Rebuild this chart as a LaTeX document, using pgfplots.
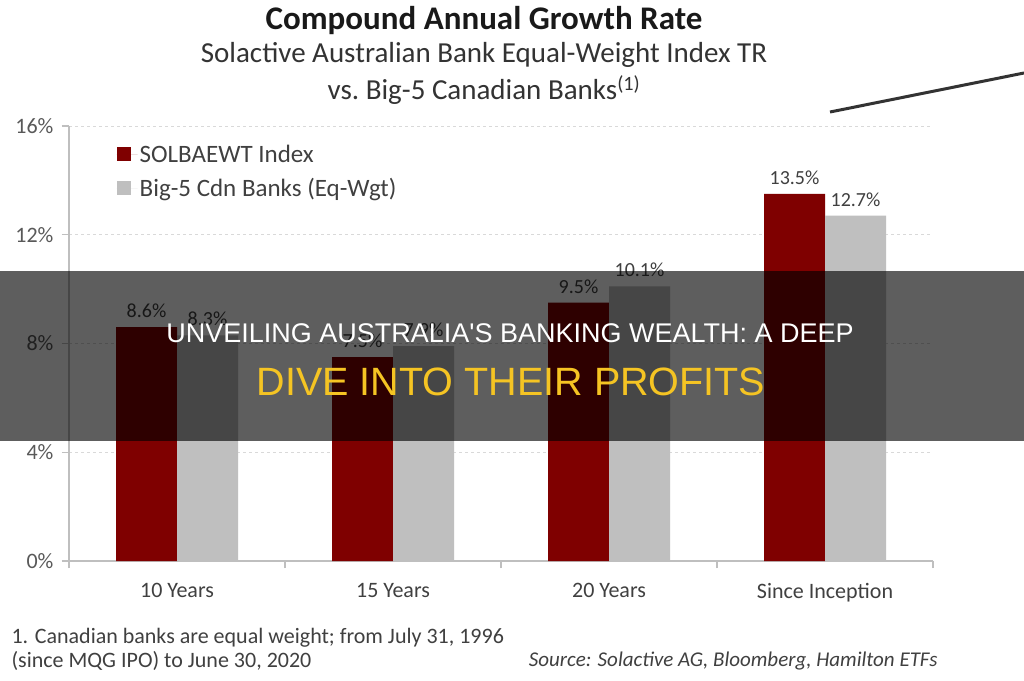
\documentclass[border=0pt]{standalone}
\usepackage{pgfplots}
\pgfplotsset{compat=1.18}
\usepackage{fontspec}
\setmainfont{Carlito}
\newfontfamily\bannerfont{Liberation Sans}
\definecolor{barred}{HTML}{7F0000}
\definecolor{bargray}{HTML}{BFBFBF}
\definecolor{axisgray}{HTML}{BFBFBF}
\definecolor{gridgray}{HTML}{D9D9D9}
\definecolor{ticktext}{HTML}{595959}
\definecolor{labtext}{HTML}{404040}
\definecolor{bannery}{RGB}{245,196,35}
\newcommand{\fs}[1]{\fontsize{#1}{#1}\selectfont}
\pgfplotsset{sqlegend/.style={legend image code/.code={\fill[##1] (0pt,-7pt) rectangle (14pt,7pt); \path (0pt,0pt) -- (21pt,0pt);}}}

\begin{document}
\begin{tikzpicture}
\path[use as bounding box, fill=white] (0,0) rectangle (1024pt,-680pt);
\begin{axis}[
  at={(69pt,-561pt)}, anchor=south west,
  scale only axis, width=864pt, height=435pt,
  xmin=0, xmax=4, ymin=0, ymax=16,
  ybar, bar width=61pt,
  axis x line=bottom, axis y line=left,
  axis line style={draw=axisgray, line width=1.2pt, -},
  ytick={0,4,8,12,16},
  yticklabel={\pgfmathprintnumber{\tick}\%},
  /pgf/number format/assume math mode=true,
  ymajorgrids, grid style={dashed, draw=gridgray, line width=0.8pt},
  tick style={draw=axisgray, line width=1.2pt},
  tick align=outside, major tick length=7pt,
  yticklabel style={font=\fs{22}, text=ticktext, xshift=-5pt},
  xtick={0,1,2,3,4},
  xticklabels={},
  extra x ticks={0.5,1.5,2.5,3.5},
  extra x tick labels={10 Years,15 Years,20 Years,Since Inception},
  extra x tick style={major tick length=0pt, xticklabel style={font=\fs{22}, text=labtext, yshift=-19pt}},
  legend style={at={(0.055,0.962)}, anchor=north west, draw=none, fill=none, font=\fs{25}, text=labtext, row sep=11pt, inner sep=0pt},
  legend cell align=left,
  nodes near coords={\pgfmathprintnumber[fixed,fixed zerofill,precision=1]{\pgfplotspointmeta}\%},
  every node near coord/.append style={font=\fs{20}, text=labtext, yshift=6pt},
  clip=false,
]
\addplot[fill=barred, draw=none, bar shift=-30.5pt, sqlegend] coordinates {(0.5,8.6) (1.5,7.5) (2.5,9.5) (3.5,13.5)};
\addlegendentry{SOLBAEWT Index}
\addplot[fill=bargray, draw=none, bar shift=30.5pt, sqlegend] coordinates {(0.5,8.3) (1.5,7.9) (2.5,10.1) (3.5,12.7)};
\addlegendentry{Big-5 Cdn Banks (Eq-Wgt)}
\end{axis}
\node[font=\fs{33}\bfseries, text=black!90] at (484pt,-21pt) {Compound Annual Growth Rate};
\node[font=\fs{29}, text=black!80] at (484pt,-55pt) {Solactive Australian Bank Equal-Weight Index TR};
\node[font=\fs{29}, text=black!80] at (484pt,-90pt) {vs.\ Big-5 Canadian Banks\textsuperscript{(1)}};
\draw[line width=3pt, black!80] (830pt,-112pt) -- (1024pt,-73pt);
\node[font=\fs{22}, text=labtext, anchor=west] at (8pt,-638pt) {1. Canadian banks are equal weight; from July 31, 1996};
\node[font=\fs{22}, text=labtext, anchor=west] at (8pt,-661pt) {(since MQG IPO) to June 30, 2020};
\node[font=\fs{21}\itshape, text=labtext, anchor=east] at (941pt,-661pt) {Source: Solactive AG, Bloomberg, Hamilton ETFs};
\fill[black, opacity=0.63] (0,-271pt) rectangle (1024pt,-441pt);
\node[font=\bannerfont\fs{27}, text=white] at (510pt,-333pt) {UNVEILING AUSTRALIA'S BANKING WEALTH: A DEEP};
\node[font=\bannerfont\fs{39.5}, text=bannery] at (511pt,-382pt) {DIVE INTO THEIR PROFITS};
\end{tikzpicture}
\end{document}
